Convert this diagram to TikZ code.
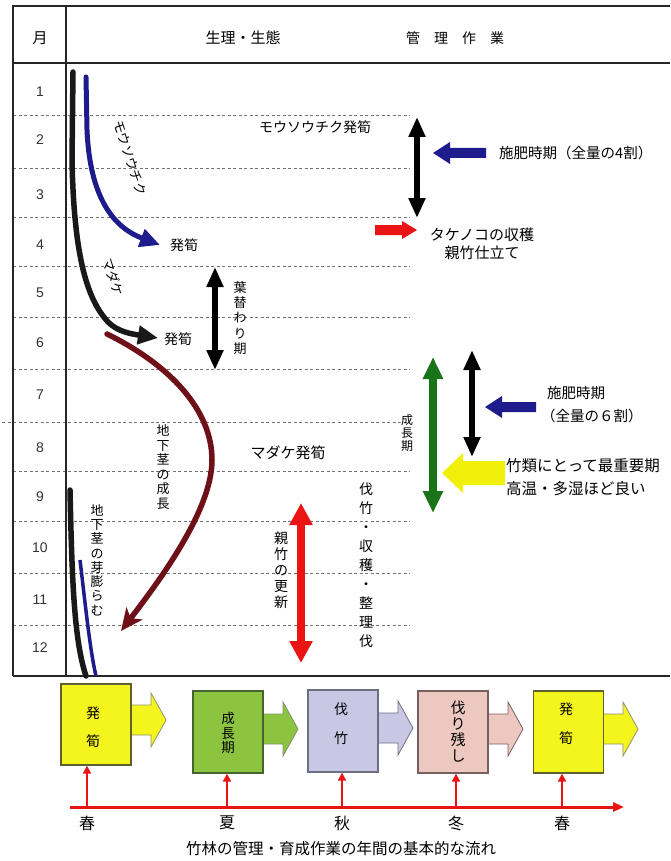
\documentclass[tikz,border=0pt]{standalone}
\usepackage{fontspec}
\setmainfont{Noto Sans CJK JP}
\newfontfamily\numfont{Liberation Sans}
\usetikzlibrary{arrows.meta}
\definecolor{navy}{RGB}{30,28,140}
\definecolor{maroon}{RGB}{110,16,24}
\definecolor{rd}{RGB}{235,20,20}
\definecolor{gr}{RGB}{25,115,25}
\definecolor{yl}{RGB}{240,240,10}
\definecolor{byel}{RGB}{245,245,30}
\definecolor{byeld}{RGB}{95,95,50}
\definecolor{bgrn}{RGB}{140,196,64}
\definecolor{bgrnd}{RGB}{70,100,45}
\definecolor{blav}{RGB}{200,200,228}
\definecolor{blavd}{RGB}{110,110,130}
\definecolor{bpnk}{RGB}{236,200,192}
\definecolor{bpnkd}{RGB}{120,95,95}
\newcommand\blockarrow[7]{\fill[#7] (#1,#2) -- (#3,#2-#6) -- (#3,#2-#5) -- (#4,#2-#5) -- (#4,#2+#5) -- (#3,#2+#5) -- (#3,#2+#6) -- cycle;}
\newcommand\flowarrow[4]{\filldraw[fill=#3, draw=#4, line width=0.8pt] (#1-3,#2-15) -- (#1+20,#2-15) -- (#1+20,#2-27) -- (#1+35,#2) -- (#1+20,#2+27) -- (#1+20,#2+15) -- (#1-3,#2+15);}
\begin{document}
\begin{tikzpicture}[x=1pt,y=-1pt,
  lbl/.style={inner sep=0pt, font=\fontsize{14}{16}\selectfont},
  vlbl/.style={inner sep=0pt, align=center},
  num/.style={inner sep=0pt, font=\numfont\fontsize{14}{16}\selectfont, text=black!80},
  gridline/.style={dash pattern=on 3pt off 2.5pt, black!55, line width=0.7pt},
  frameline/.style={line width=1.5pt, black!85},
  dblblack/.style={line width=6pt, {Triangle[length=20pt,width=16pt]}-{Triangle[length=20pt,width=16pt]}},
  fbox/.style={draw, line width=1.3pt, minimum width=70pt, minimum height=82pt, inner sep=0pt},
  btext/.style={inner sep=0pt, align=center},
  stalk/.style={rd, line width=2.5pt, -{Triangle[length=8pt,width=8pt]}},
]
\useasboundingbox (0,0) rectangle (670,861);
\fill[white] (0,0) rectangle (670,861);

% grid dashed lines
\foreach \y in {115,168,217,266,317,369,422,471,521,573,625}
  \draw[gridline] (13,\y) -- (410,\y);
\draw[gridline] (2,422) -- (13,422);

% frame
\draw[frameline] (13,676) -- (13,6) -- (670,6);
\draw[frameline] (13,63) -- (670,63);
\draw[frameline] (13,676) -- (670,676);
\draw[frameline, line width=1.2pt] (66,6) -- (66,676);

% header
\node[lbl, font=\fontsize{15}{16}\selectfont] (hm) at (40,38) {月};
\node[lbl, font=\fontsize{15}{16}\selectfont] (hs) at (243,38) {生理・生態};
\node[lbl, font=\fontsize{14}{16}\selectfont] (hk) at (455,38) {管\hspace{14pt}理\hspace{14pt}作\hspace{14pt}業};

% month numbers
\foreach \m/\y in {1/92,2/140,3/195,4/245,5/293,6/343,7/395,8/448,9/497,10/548,11/600,12/648}
  \node[num] (m\m) at (40,\y) {\m};

% Moso curve (blue)
\coordinate (bs) at (86,77);
\coordinate (be) at (160,245);
\draw[navy, line width=5pt, line cap=round, -{Triangle[length=20pt,width=18pt]}]
  (bs) -- (87,130) .. controls (90,200) and (115,228) .. (be);
\node[lbl, rotate=-72, font=\fontsize{13}{14}\selectfont] (lmoso) at (130,158) {モウソウチク};
\node[lbl] (h1) at (184,245) {発筍};

% Madake curve (black)
\coordinate (ks) at (73,72);
\coordinate (ke) at (158,338);
\draw[black!90, line width=5.5pt, line cap=round, -{Triangle[length=20pt,width=18pt]}]
  (ks) -- (72,160) .. controls (74,260) and (88,300) .. (108,322) .. controls (118,332) and (132,334) .. (ke);
\node[lbl, rotate=-72, font=\fontsize{13}{14}\selectfont] (lmada) at (113,277) {マダケ};
\node[lbl] (h2) at (178,339) {発筍};

% rhizome growth (maroon)
\coordinate (rs) at (107,334);
\coordinate (re) at (121,631);
\draw[maroon, line width=5.5pt, line cap=round, -{Stealth[length=22pt,width=20pt,inset=6pt]}]
  (rs) .. controls (170,365) and (212,410) .. (212,460) .. controls (212,510) and (160,580) .. (re);
\node[vlbl, font=\fontsize{13}{14.5}\selectfont] (lrh) at (163,467) {地\\下\\茎\\の\\成\\長};

% rhizome buds (black + blue)
\coordinate (gs) at (70,490);
\coordinate (ge) at (86,676);
\coordinate (us) at (80,560);
\coordinate (ue) at (96,676);
\draw[black!90, line width=5.5pt, line cap=round] (gs) .. controls (72,580) and (74,640) .. (ge);
\draw[navy, line width=3.5pt] (us) .. controls (86,610) and (90,650) .. (ue);
\node[vlbl, font=\fontsize{13}{14.3}\selectfont] (lbud) at (97,560) {地\\下\\茎\\の\\芽\\膨\\ら\\む};

% leaf change period
\coordinate (la) at (215,267);
\coordinate (lb) at (215,370);
\draw[dblblack] (la) -- (lb);
\node[vlbl, font=\fontsize{13}{15.4}\selectfont] (lleaf) at (240,318) {葉\\替\\わ\\り\\期};

% management texts
\node[lbl] (tmh) at (315,127) {モウソウチク発筍};
\node[lbl, font=\fontsize{15}{16}\selectfont] (tmd) at (288,453) {マダケ発筍};

% top fertilising
\coordinate (fa) at (417,117);
\coordinate (fb) at (417,218);
\draw[dblblack] (fa) -- (fb);
\blockarrow{433}{153}{450}{486}{5}{11}{navy}
\node[lbl, anchor=west, font=\fontsize{14.5}{16}\selectfont] (tf1) at (499,153) {施肥時期（全量の4割）};

% harvest
\blockarrow{417}{230}{402}{375}{5}{9}{rd}
\node[btext, font=\fontsize{15}{18}\selectfont] (thv) at (482,244) {タケノコの収穫\\親竹仕立て};

% renewal of parent bamboo
\coordinate (pa) at (301,503);
\coordinate (pb) at (301,663);
\draw[rd, line width=8pt, {Triangle[length=22pt,width=22pt]}-{Triangle[length=22pt,width=22pt]}] (pa) -- (pb);
\node[vlbl, font=\fontsize{14}{16}\selectfont] (lren) at (281,570) {親\\竹\\の\\更\\新};
\node[vlbl, font=\fontsize{14}{19}\selectfont] (lcut) at (366,565) {伐\\竹\\・\\収\\穫\\・\\整\\理\\伐};

% growth period
\coordinate (ga) at (433,357);
\coordinate (gb) at (433,513);
\draw[gr, line width=7.5pt, {Triangle[length=22pt,width=19pt]}-{Triangle[length=22pt,width=19pt]}] (ga) -- (gb);
\node[vlbl, font=\fontsize{12}{13.3}\selectfont] (lgr) at (407,433) {成\\長\\期};
\coordinate (sa) at (472,350);
\coordinate (sb) at (472,457);
\draw[dblblack] (sa) -- (sb);
\blockarrow{485}{407}{502}{536}{5}{11}{navy}
\node[lbl, anchor=north west, align=left, font=\fontsize{14.5}{23}\selectfont] (tf2) at (541,386) {\hspace{6pt}施肥時期\\（全量の６割）};
\blockarrow{442}{473}{463}{505}{12}{20}{yl}
\node[lbl, anchor=north west, align=left, font=\fontsize{15.5}{23}\selectfont] (timp) at (506,458) {竹類にとって最重要期\\高温・多湿ほど良い};

% bottom flow
\flowarrow{131}{720}{byel}{byeld!70}
\node[fbox, fill=byel, draw=byeld, minimum height=81pt] (b1) at (96,724.5) {};
\node[btext, font=\fontsize{14}{28}\selectfont] (b1t) at (93,727) {発\\筍};
\flowarrow{263}{729}{bgrn}{bgrnd!70}
\node[fbox, fill=bgrn, draw=bgrnd] (b2) at (228,732) {};
\node[btext, font=\fontsize{13.5}{14.5}\selectfont] (b2t) at (228,733) {成\\長\\期};
\flowarrow{378}{728}{blav}{blavd}
\node[fbox, fill=blav, draw=blavd] (b3) at (343,731) {};
\node[btext, font=\fontsize{14}{29}\selectfont] (b3t) at (341,723.5) {伐\\竹};
\flowarrow{488}{729}{bpnk}{bpnkd}
\node[fbox, fill=bpnk, draw=bpnkd] (b4) at (453,732) {};
\node[btext, font=\fontsize{15}{16}\selectfont] (b4t) at (458,732) {伐\\り\\残\\し};
\flowarrow{603}{729}{byel}{byeld!70}
\node[fbox, fill=byel, draw=byeld] (b5) at (568.5,732) {};
\node[btext, font=\fontsize{14}{29}\selectfont] (b5t) at (566,723.5) {発\\筍};

% timeline
\coordinate (tl0) at (70,807);
\coordinate (tl1) at (624,807);
\draw[rd, line width=3pt, -{Triangle[length=11pt,width=9pt]}] (tl0) -- (tl1);
\foreach \i/\x in {1/87,2/227,3/342,4/456,5/562}{
  \coordinate (t\i) at (\x,807);
  \draw[stalk] (t\i) -- (t\i |- b\i.south);
}
\foreach \i/\x/\s in {1/87/春,2/227/夏,3/342/秋,4/456/冬,5/562/春}
  \node[lbl, font=\fontsize{16}{16}\selectfont] (s\i) at (\x,823) {\s};

\node[lbl, font=\fontsize{15.5}{16}\selectfont] (cap) at (341,849) {竹林の管理・育成作業の年間の基本的な流れ};
\end{tikzpicture}
\end{document}
